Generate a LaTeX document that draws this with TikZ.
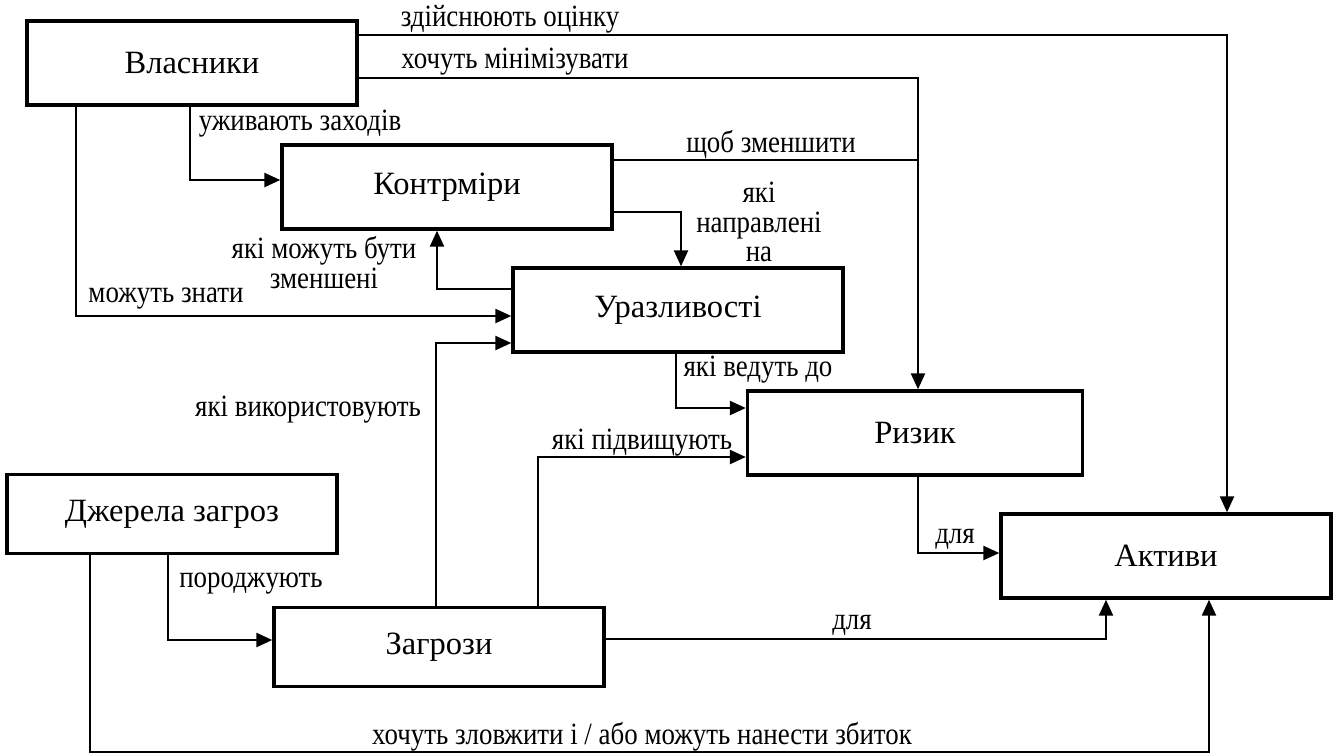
\documentclass[tikz,border=0pt]{standalone}
\usepackage{fontspec}
\setmainfont{Liberation Serif}
\newfontfamily\lblfont[FakeStretch=0.87]{Liberation Serif}
\usetikzlibrary{arrows.meta}

\begin{document}
\begin{tikzpicture}[x=0.02cm,y=-0.02cm,>={Triangle[length=9pt,width=8pt]},
  box/.style={draw,line width=2pt,minimum width=6.6cm,minimum height=1.68cm,inner sep=0pt,font=\fontsize{18.5}{20}\selectfont},
  conn/.style={line width=1pt},
  lbl/.style={inner sep=0pt,align=center,font=\lblfont\fontsize{17.6}{17}\selectfont}]
\useasboundingbox (0,0) rectangle (1342,755);
% boxes
\node[box] (own) at (192,63) {Власники};
\node[box] (ctr) at (447,187) {Контрміри};
\node[box] (vul) at (678,310) {Уразливості};
\node[box,minimum width=6.7cm] (risk) at (915,433) {Ризик};
\node[box] (asset) at (1166,556) {Активи};
\node[box,minimum height=1.58cm] (src) at (172,514) {Джерела загроз};
\node[box,minimum height=1.58cm] (thr) at (439,647) {Загрози};
\coordinate (jn) at (918,160);
\coordinate (bend) at (1209,752);
% connectors
\draw[conn,->] (own.east |- 0,35) -| (asset.north -| 1227,0);
\draw[conn,->] (own.east |- 0,78) -| (risk.north -| 918,0);
\draw[conn] (ctr.east |- 0,160) -- (jn);
\draw[conn,->] (ctr.east |- 0,212) -| (vul.north -| 681,0);
\draw[conn,->] (own.south -| 190,0) |- (ctr.west |- 0,180);
\draw[conn,->] (own.south -| 76,0) |- (vul.west |- 0,316);
\draw[conn,->] (vul.west |- 0,289) -| (ctr.south -| 437,0);
\draw[conn,->] (thr.north -| 436,0) |- (vul.west |- 0,343);
\draw[conn,->] (vul.south -| 676,0) |- (risk.west |- 0,408);
\draw[conn,->] (thr.north -| 538,0) |- (risk.west |- 0,457);
\draw[conn,->] (src.south -| 168,0) |- (thr.west |- 0,640);
\draw[conn,->] (risk.south -| 918,0) |- (asset.west |- 0,553);
\draw[conn,->] (thr.east |- 0,639) -| (asset.south -| 1106,0);
\draw[conn,->] (src.south -| 90,0) |- (bend) -- (asset.south -| bend);
% labels
\node[lbl] (lEval) at (510,19) {здійснюють оцінку};
\node[lbl] (lMin) at (515,62) {хочуть мінімізувати};
\node[lbl] (lReduce) at (771,145) {щоб зменшити};
\node[lbl] (lAimed) at (759,222) {які\\направлені\\на};
\node[lbl] (lTake) at (300,124) {уживають заходів};
\node[lbl] (lKnow) at (166,299) {можуть знати};
\node[lbl] (lLess) at (324,263) {які можуть бути\\зменшені};
\node[lbl] (lUse) at (308,410) {які використовують};
\node[lbl] (lLead) at (758,370) {які ведуть до};
\node[lbl] (lRaise) at (642,443) {які підвищують};
\node[lbl] (lGen) at (251,584) {породжують};
\node[lbl] (lFor) at (955,539) {для};
\node[lbl] (lForB) at (852,625) {для};
\node[lbl] (lHarm) at (642,737) {хочуть зловжити і / або можуть нанести збиток};
\end{tikzpicture}
\end{document}
